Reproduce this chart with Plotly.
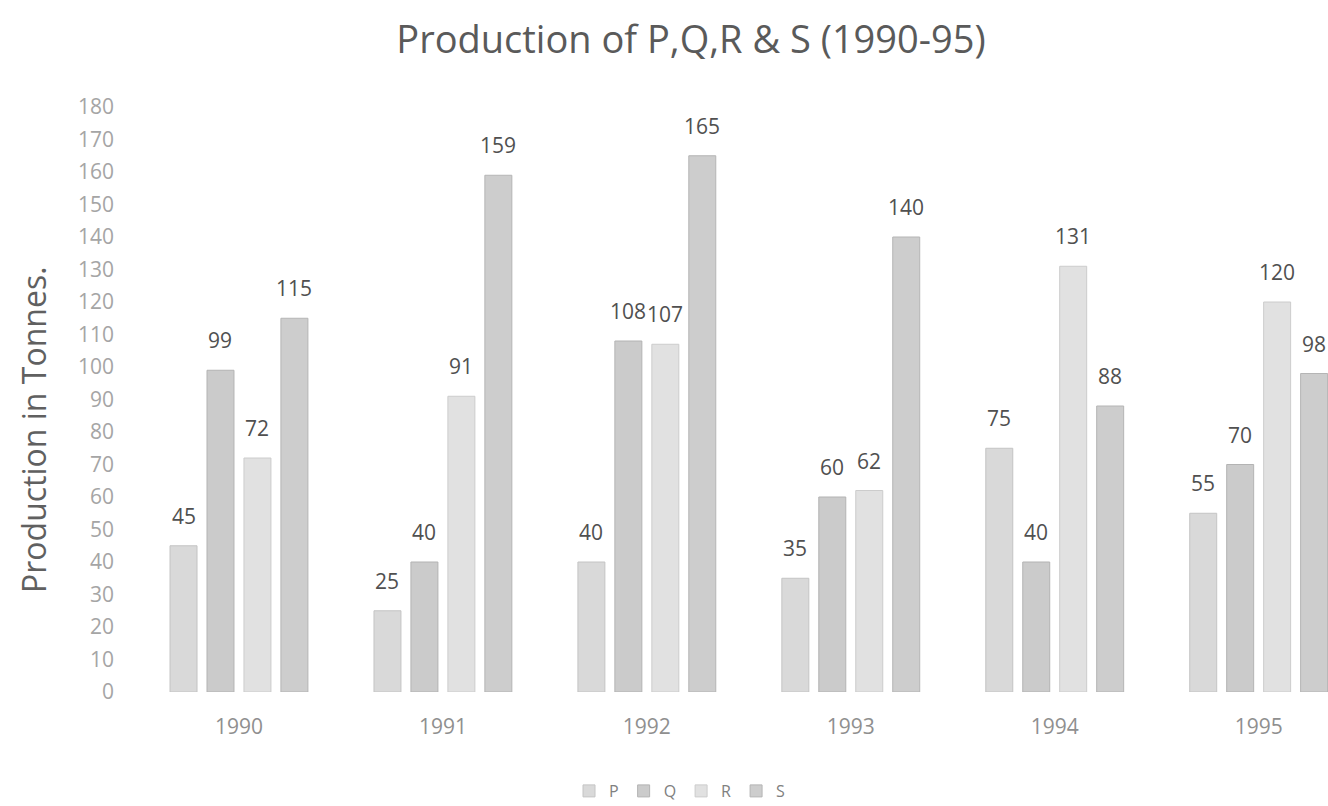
import plotly.graph_objects as go

years = ["1990", "1991", "1992", "1993", "1994", "1995"]
P = [45, 25, 40, 35, 75, 55]
Q = [99, 40, 108, 60, 40, 70]
R = [72, 91, 107, 62, 131, 120]
S = [115, 159, 165, 140, 88, 98]
series_names = ["P", "Q", "R", "S"]
y_ticks = list(range(0, 181, 10))

fills = ["#d9d9d9", "#cbcbcb", "#e1e1e1", "#cdcdcd"]
lines = ["#c4c4c4", "#b3b3b3", "#cccccc", "#b5b5b5"]

W, H = 1328, 806
L, R_M, T, B = 137, 0, 107, 114
x_range = [-0.5, 5.34]
bargap, bargroupgap = 0.275, 0.27
plot_w = W - L - R_M
plot_h = H - T - B
px_per_cat = plot_w / (x_range[1] - x_range[0])
slot = (1 - bargap) * px_per_cat / len(series_names)

fig = go.Figure()
annotations = []
for i, (name, vals, fc, lc) in enumerate(zip(series_names, [P, Q, R, S], fills, lines)):
    fig.add_trace(go.Bar(
        name=name, x=years, y=vals,
        marker=dict(color=fc, line=dict(color=lc, width=1)),
    ))
    off = (i - (len(series_names) - 1) / 2) * slot
    for j, v in enumerate(vals):
        annotations.append(dict(
            x=j, y=v, xref="x", yref="y", text=str(v), showarrow=False,
            xshift=off, yshift=30, yanchor="middle",
            font=dict(family="Open Sans", size=21, color="#505050"),
        ))

# y-axis title as annotation (positioned like the reference)
annotations.append(dict(
    text="Production in Tonnes.", textangle=-90, showarrow=False,
    xref="paper", yref="paper", x=(33 - L) / plot_w, y=(H - B - 430) / plot_h,
    xanchor="center", yanchor="middle",
    font=dict(family="Open Sans", size=32, color="#606060"),
))

fig.update_layout(
    width=W, height=H,
    paper_bgcolor="white", plot_bgcolor="white",
    margin=dict(l=L, r=R_M, t=T, b=B),
    barmode="group", bargap=bargap, bargroupgap=bargroupgap,
    title=dict(text="Production of P,Q,R & S (1990-95)", x=691 / W, xanchor="center",
               xref="container", y=1 - 40 / H, yanchor="middle",
               font=dict(family="Open Sans", size=38, color="#5a5a5a")),
    xaxis=dict(range=x_range, showgrid=False, showline=False, ticks="",
               ticklabelstandoff=20,
               tickfont=dict(family="Open Sans", size=21, color="#8f8f8f")),
    yaxis=dict(range=[0, 180], tickvals=y_ticks, showgrid=False, zeroline=False,
               showline=False, ticks="", ticklabelstandoff=22,
               tickfont=dict(family="Open Sans", size=21, color="#a5a5a5")),
    legend=dict(orientation="h", x=680 / W, xref="container", xanchor="center",
                y=1 - 791 / H, yref="container", yanchor="middle",
                font=dict(family="Open Sans", size=16, color="#808080"),
                itemwidth=30, traceorder="normal"),
    annotations=annotations,
)

fig.write_html(
    "out.html",
    config={"displayModeBar": False},
    post_script="document.body.style.margin='0';document.body.style.overflow='hidden';",
)
